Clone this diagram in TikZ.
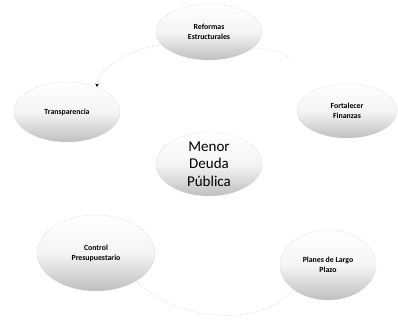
\documentclass[tikz,border=0pt]{standalone}
\usepackage{fontspec}
\setmainfont{Carlito}
\usetikzlibrary{shapes.geometric,arrows.meta}
\begin{document}
\begin{tikzpicture}[x=1pt,y=-1pt,
  oval/.style={ellipse, draw=gray!40, line width=0.5pt, densely dotted,
    top color=white, bottom color=gray!50, middle color=white!92!gray, shading angle=0,
    inner sep=0pt, align=center, font=\bfseries\fontsize{7.8}{10}\selectfont},
  link/.style={draw=gray!40, line width=0.5pt, densely dotted}]
\useasboundingbox (0,0) rectangle (398,322);
\node[oval, minimum width=106pt, minimum height=56pt] (ref) at (209,32) {Reformas\\Estructurales};
\node[oval, minimum width=106pt, minimum height=60pt] (tra) at (67,112) {Transparencia};
\node[oval, minimum width=100pt, minimum height=54pt] (fort) at (347,111) {Fortalecer\\Finanzas};
\node[oval, minimum width=106pt, minimum height=64pt, font=\fontsize{15}{17.5}\selectfont] (men) at (209,164) {Menor\\Deuda\\Pública};
\node[oval, minimum width=118pt, minimum height=76pt] (ctl) at (96,253) {Control\\Presupuestario};
\node[oval, minimum width=96pt, minimum height=70pt] (pla) at (328,265) {Planes de Largo\\Plazo};
\draw[link, -{Stealth[length=3.5pt,width=3.5pt,color=black]}] (ref.195) .. controls (125,50) and (98,70) .. (tra.40);
\draw[link] (ref.-20) .. controls (275,48) and (285,54) .. (292,60);
\draw[link] (ctl.-35) .. controls (175,320) and (260,330) .. (pla.-145);
\end{tikzpicture}
\end{document}
